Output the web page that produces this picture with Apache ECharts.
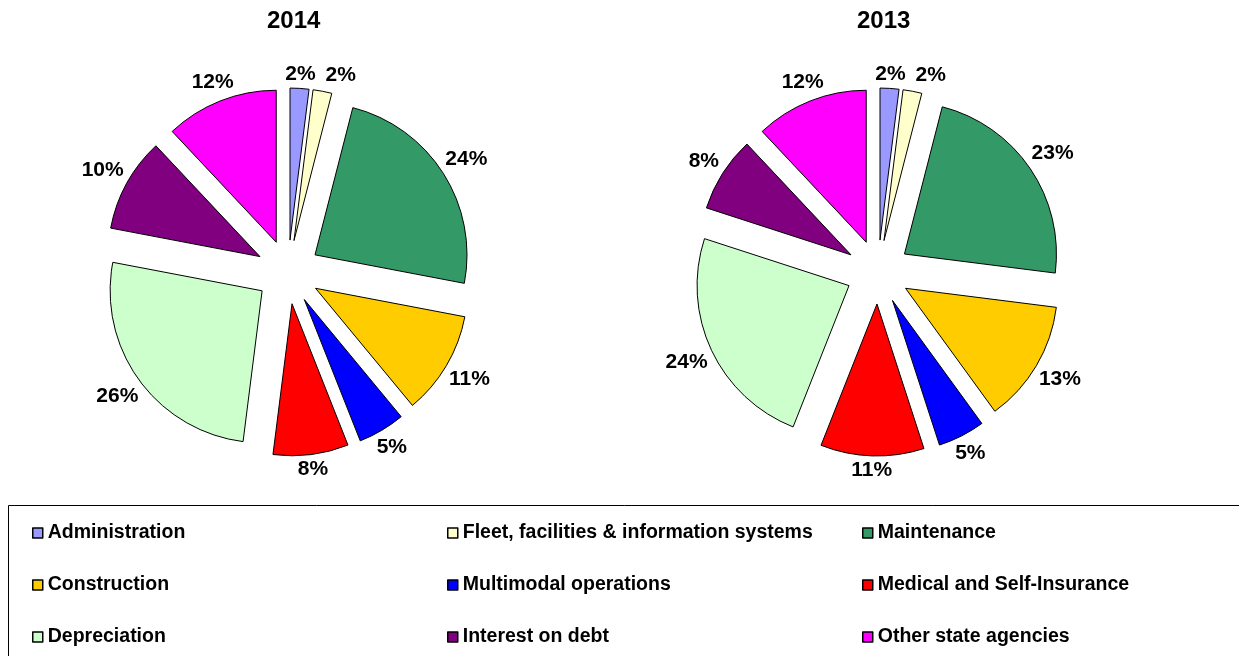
<!DOCTYPE html>
<html>
<head>
<meta charset="utf-8">
<script src="https://cdn.jsdelivr.net/npm/echarts@6/dist/echarts.min.js"></script>
<style>
  html, body { margin: 0; padding: 0; background: #fff; }
  #main { width: 1239px; height: 656px; }
</style>
</head>
<body>
<div id="main"></div>
<script>
var categories = ['Administration', 'Fleet, facilities & information systems', 'Maintenance',
    'Construction', 'Multimodal operations', 'Medical and Self-Insurance',
    'Depreciation', 'Interest on debt', 'Other state agencies'];
var values2014 = [2, 2, 24, 11, 5, 8, 26, 10, 12];
var values2013 = [2, 2, 23, 13, 5, 11, 24, 8, 12];
var years = ['2014', '2013'];
var colors = ['#9999FF', '#FFFFCC', '#339966', '#FFCC00', '#0000FF', '#FF0000', '#CCFFCC', '#800080', '#FF00FF'];

var FONT = '"Liberation Sans", Arial, sans-serif';
var RADIUS = 152;
var EXPLODE = 32;

function buildData(values, withColor) {
    return categories.map(function (name, i) {
        var item = { name: name, value: values[i], selected: true };
        if (withColor) {
            item.itemStyle = { color: colors[i] };
        }
        return item;
    });
}

function pieSeries(values, center) {
    return {
        type: 'pie',
        center: center,
        radius: RADIUS,
        startAngle: 90,
        selectedMode: 'multiple',
        selectedOffset: EXPLODE,
        animation: false,
        silent: true,
        itemStyle: { borderColor: '#000', borderWidth: 1 },
        label: { show: false },
        labelLine: { show: false },
        emphasis: { disabled: true },
        data: buildData(values, true)
    };
}

// placed label boxes, per series, so a label can step aside from the one before it
var placed = {};

// push each label out until its box just clears the slice edge (like excel does)
// (label rect here is before the explode offset, which gets added afterwards)
function labelPlacer(center) {
    return function (p) {
        var r = p.labelRect;
        var lx = r.x + r.width / 2, ly = r.y + r.height / 2;
        var vx = lx - center[0], vy = ly - center[1];
        var len = Math.sqrt(vx * vx + vy * vy) || 1;
        var ux = vx / len, uy = vy / len;
        var dist = RADIUS + 5 + Math.abs(ux) * r.width / 2 + Math.abs(uy) * r.height * 0.4;
        var nx = center[0] + ux * dist;
        var ny = center[1] + uy * dist;

        var list = placed[p.seriesIndex] = placed[p.seriesIndex] || [];
        for (var k = 0; k < p.dataIndex; k++) {
            var b = list[k];
            if (!b) continue;
            var overlapY = Math.abs(b.y - ny) < (b.h + r.height) / 2;
            var overlapX = Math.abs(b.x - nx) < (b.w + r.width) / 2 + 6;
            if (overlapX && overlapY) {
                nx = b.x + (b.w + r.width) / 2 + 6;
            }
        }
        list[p.dataIndex] = { x: nx, y: ny, w: r.width, h: r.height };

        return {
            dx: nx - lx,
            dy: ny - ly,
            hideOverlap: false
        };
    };
}

// transparent ring just outside the pie, carries the percent labels
function labelSeries(values, center) {
    return {
        type: 'pie',
        center: center,
        radius: [RADIUS + 5, RADIUS + 45],
        startAngle: 90,
        selectedMode: 'multiple',
        selectedOffset: EXPLODE,
        animation: false,
        silent: true,
        avoidLabelOverlap: false,
        itemStyle: { color: 'rgba(0,0,0,0)', borderWidth: 0 },
        label: {
            show: true,
            position: 'inside',
            formatter: '{c}%',
            color: '#000',
            fontWeight: 'bold',
            fontSize: 21,
            fontFamily: FONT
        },
        labelLine: { show: false },
        labelLayout: labelPlacer(center),
        emphasis: { disabled: true },
        data: buildData(values, false)
    };
}

var myChart = echarts.init(document.getElementById('main'));

var legendCols = [
    [categories[0], categories[3], categories[6]],
    [categories[1], categories[4], categories[7]],
    [categories[2], categories[5], categories[8]]
];
var legendX = [32, 447, 862];
var titleStyle = { fontSize: 24, fontWeight: 'bold', color: '#000', fontFamily: FONT };

var option = {
    backgroundColor: '#fff',
    color: colors,
    title: [
        { text: years[0], left: 267, top: 9, padding: 0, textStyle: titleStyle },
        { text: years[1], left: 857, top: 9, padding: 0, textStyle: titleStyle }
    ],
    legend: legendCols.map(function (names, i) {
        return {
            data: names,
            orient: 'vertical',
            left: legendX[i],
            top: 523,
            padding: 0,
            itemGap: 32,
            itemWidth: 10,
            itemHeight: 10,
            icon: 'rect',
            selectedMode: false,
            itemStyle: { borderColor: '#000', borderWidth: 1.5 },
            textStyle: { fontSize: 19.5, fontWeight: 'bold', color: '#000', fontFamily: FONT, lineHeight: 20 }
        };
    }),
    graphic: [{
        type: 'rect',
        shape: { x: 8.5, y: 505.5, width: 1260, height: 200 },
        style: { fill: 'none', stroke: '#000', lineWidth: 1 },
        silent: true
    }],
    series: [
        pieSeries(values2014, [288, 272]),
        pieSeries(values2013, [878, 272]),
        labelSeries(values2014, [288, 272]),
        labelSeries(values2013, [878, 272])
    ]
};

myChart.setOption(option);
</script>
</body>
</html>
